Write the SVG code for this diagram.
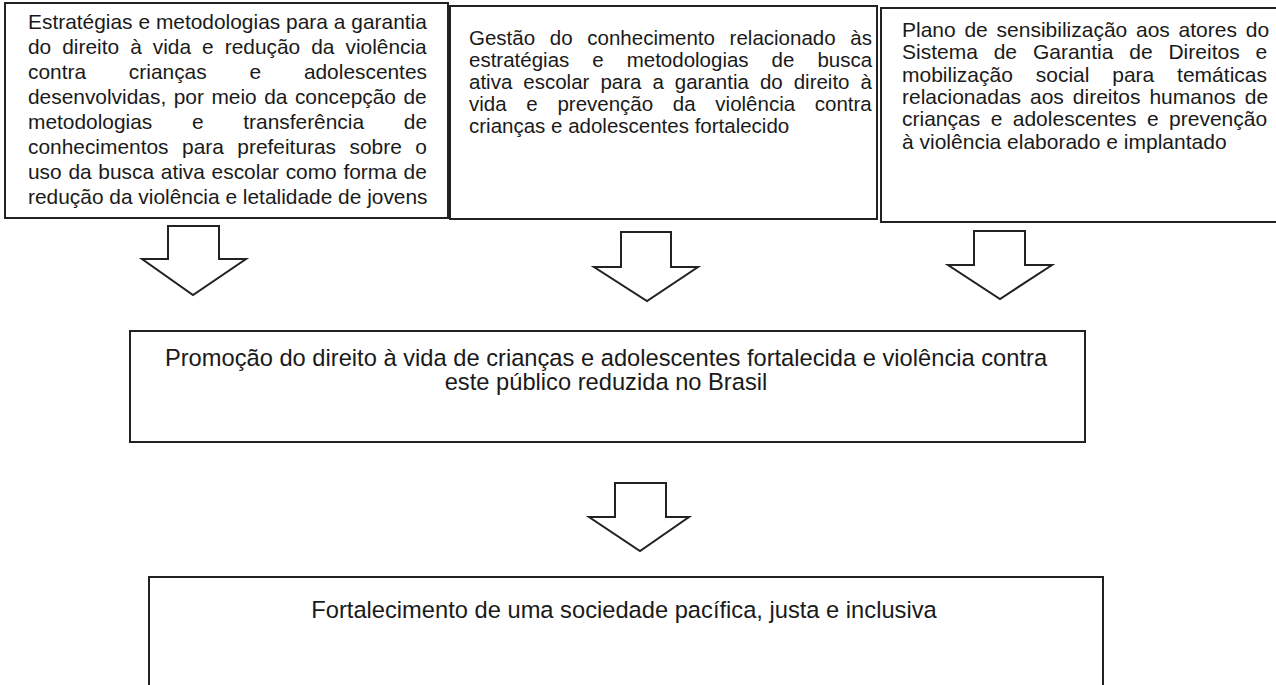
<svg xmlns="http://www.w3.org/2000/svg" width="1276" height="685" viewBox="0 0 1276 685">
<style>
.box{fill:#fff;stroke:#222;stroke-width:2}
.arr{fill:#fff;stroke:#222;stroke-width:2;stroke-linejoin:miter}
.t{font-family:"Liberation Sans",Arial,sans-serif;fill:#1a1a1a;font-kerning:none}
.s1{font-size:20.9px}
.s2{font-size:20.5px}
.s3{font-size:21px}
.s4{font-size:23.7px}
</style>
<rect width="1276" height="685" fill="#fff"/>
<g id="node-estrategias">
<rect class="box" x="5" y="3" width="443" height="215"/>
<text class="t s1" x="28" y="28.5" word-spacing="0.1">Estratégias e metodologias para a garantia</text>
<text class="t s1" x="28" y="53.5" word-spacing="5.2">do direito à vida e redução da violência</text>
<text class="t s1" x="28" y="78.5" word-spacing="37">contra crianças e adolescentes</text>
<text class="t s1" x="28" y="103.5" word-spacing="1.7">desenvolvidas, por meio da concepção de</text>
<text class="t s1" x="28" y="128.5" word-spacing="33.9">metodologias e transferência de</text>
<text class="t s1" x="28" y="153.5" word-spacing="7.7">conhecimentos para prefeituras sobre o</text>
<text class="t s1" x="28" y="178.5" word-spacing="0.9">uso da busca ativa escolar como forma de</text>
<text class="t s1" x="28" y="203.5">redução da violência e letalidade de jovens</text>
</g>
<g id="node-gestao">
<rect class="box" x="450" y="6" width="427" height="213"/>
<text class="t s2" x="469" y="45" word-spacing="9">Gestão do conhecimento relacionado às</text>
<text class="t s2" x="469" y="67" word-spacing="17.3">estratégias e metodologias de busca</text>
<text class="t s2" x="469" y="89" word-spacing="5.3">ativa escolar para a garantia do direito à</text>
<text class="t s2" x="469" y="111" word-spacing="14">vida e prevenção da violência contra</text>
<text class="t s2" x="469" y="133">crianças e adolescentes fortalecido</text>
</g>
<g id="node-plano">
<rect class="box" x="881" y="8" width="400" height="214"/>
<text class="t s3" x="902" y="37" word-spacing="2.9">Plano de sensibilização aos atores do</text>
<text class="t s3" x="902" y="59.3" word-spacing="10">Sistema de Garantia de Direitos e</text>
<text class="t s3" x="902" y="81.6" word-spacing="17">mobilização social para temáticas</text>
<text class="t s3" x="902" y="103.9" word-spacing="3.1">relacionadas aos direitos humanos de</text>
<text class="t s3" x="902" y="126.2" word-spacing="4.6">crianças e adolescentes e prevenção</text>
<text class="t s3" x="902" y="148.5">à violência elaborado e implantado</text>
</g>
<g id="node-promocao">
<rect class="box" x="130" y="331" width="955" height="111"/>
<text class="t s4" x="606" y="366" text-anchor="middle">Promoção do direito à vida de crianças e adolescentes fortalecida e violência contra</text>
<text class="t s4" x="606" y="390" text-anchor="middle">este público reduzida no Brasil</text>
</g>
<g id="node-fortalecimento">
<rect class="box" x="149" y="577" width="954" height="120"/>
<text class="t s4" x="624" y="618" text-anchor="middle">Fortalecimento de uma sociedade pacífica, justa e inclusiva</text>
</g>
<g id="connectors">
<polygon class="arr" points="168,226 219,226 219,259 246,259 193,295 142,259 168,259"/>
<polygon class="arr" points="621,232 671,232 671,267 698,267 647,301 594,267 621,267"/>
<polygon class="arr" points="974,231 1025,231 1025,265 1052,265 1000,299 948,265 974,265"/>
<polygon class="arr" points="615,483 666,483 666,517 689,517 640,551 589,517 615,517"/>
</g>
</svg>
